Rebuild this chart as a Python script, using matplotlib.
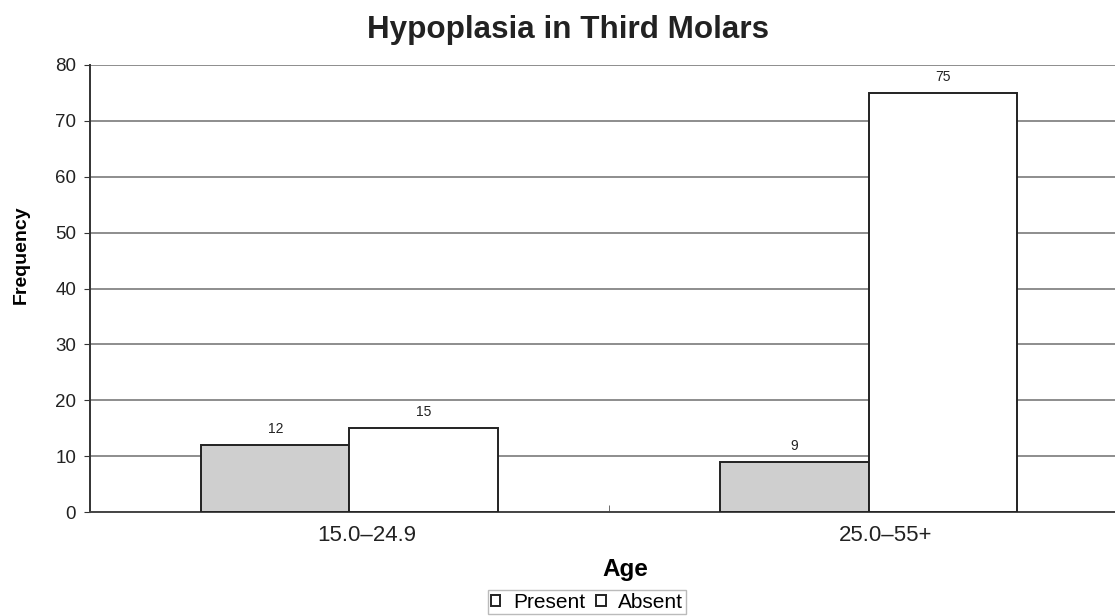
import numpy as np
import matplotlib.pyplot as plt
from matplotlib.patches import Patch

ages = ["15.0\u201324.9", "25.0\u201355+"]
present = [12, 9]
absent = [15, 75]

plt.rcParams['font.family'] = ['Liberation Sans', 'DejaVu Sans']

fig = plt.figure(figsize=(11.15, 6.16), dpi=100)
ax = fig.add_axes([0.0807, 0.1688, 0.931, 0.7257])

x = np.arange(len(ages)) + 0.5
w = 0.286

b1 = ax.bar(x - w / 2, present, w, color='#cfcfcf', edgecolor='#222222',
            linewidth=1.4, label='Present', zorder=3)
b2 = ax.bar(x + w / 2, absent, w, color='white', edgecolor='#222222',
            linewidth=1.4, label='Absent', zorder=3)

for bars in (b1, b2):
    for r in bars:
        ax.text(r.get_x() + r.get_width() / 2, r.get_height() + 1.6,
                f"{int(r.get_height())}", ha='center', va='bottom',
                fontsize=10, color='#222222')

ax.set_xlim(0, 2)
ax.set_ylim(0, 80)
ax.set_yticks(range(0, 81, 10))
ax.yaxis.grid(True, color='#7a7a7a', linewidth=1.2, zorder=0)
ax.tick_params(axis='y', labelsize=13.5, length=4, color='#333333', pad=6,
               labelcolor='#222222')

# category labels sit a little right of the group centres
ax.set_xticks(x + 0.033)
ax.set_xticklabels(ages, fontsize=16, color='#222222')
ax.tick_params(axis='x', length=0, pad=9)
ax.set_xticks([1.0], minor=True)
ax.tick_params(axis='x', which='minor', length=5, color='#555555', direction='in')

for s in ('top', 'right'):
    ax.spines[s].set_visible(False)
ax.spines['left'].set_color('#333333')
ax.spines['left'].set_linewidth(1.4)
ax.spines['bottom'].set_color('#444444')
ax.spines['bottom'].set_linewidth(1.4)

ax.set_ylabel("Frequency", fontsize=14, fontweight='bold')
ax.yaxis.set_label_coords(-0.058, 0.575)
ax.set_xlabel("Age", fontsize=17.5, fontweight='bold')
ax.xaxis.set_label_coords(0.5155, -0.102)
fig.text(0.509, 0.952, "Hypoplasia in Third Molars", ha='center', va='center',
         fontsize=22.6, fontweight='bold', color='#222222')

handles = [Patch(facecolor='white', edgecolor='#222222', linewidth=1.4, label='Present'),
           Patch(facecolor='white', edgecolor='#222222', linewidth=1.4, label='Absent')]
fig.legend(handles=handles, loc='center', bbox_to_anchor=(0.5265, 0.022), ncol=2,
           fontsize=15, frameon=True, fancybox=False, edgecolor='#aaaaaa',
           handlelength=0.45, handleheight=0.45, handletextpad=0.6,
           columnspacing=0.55, borderpad=0.12, borderaxespad=0)

fig.savefig("out.png", dpi=100)
